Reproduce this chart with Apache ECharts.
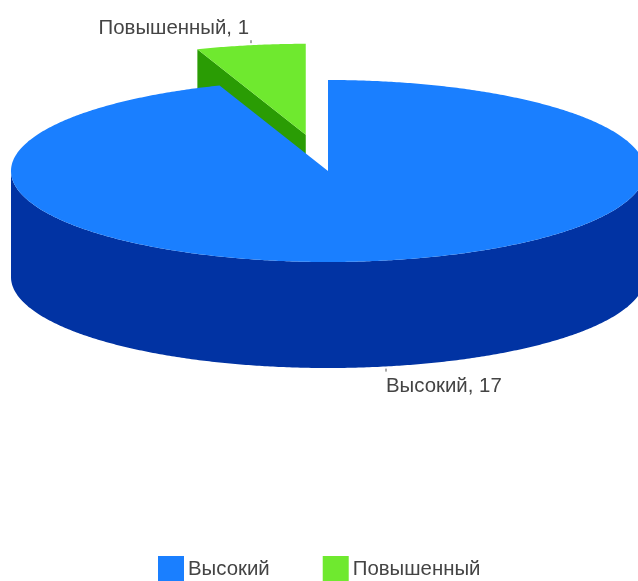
<!DOCTYPE html>
<html><head><meta charset="utf-8">
<style>html,body{margin:0;padding:0;background:#fff}#c{width:638px;height:581px}</style>
<script src="https://cdn.jsdelivr.net/npm/echarts@6/dist/echarts.min.js"></script>
</head><body><div id="c"></div>
<script>
var categories = ['Высокий', 'Повышенный'];
var values = [17, 1];
var topColors = ['#1a7fff', '#6fe92f'];
var sideColors = ['#0133a3', '#2a9c04'];
var explode = [0, 128];
var drawOrder = [1, 0];

var CX = 328, CY = 171, RX = 317, RY = 91, DEPTH = 106;
var total = values.reduce(function (a, b) { return a + b; }, 0);

function startAngle(i) {
  var s = 0;
  for (var k = 0; k < i; k++) s += values[k];
  return s / total * 360;
}
function pt(deg, ox, oy, dz) {
  var r = deg * Math.PI / 180;
  return [CX + ox + RX * Math.sin(r), CY + oy - RY * Math.cos(r) + (dz || 0)];
}
function arc(a, b, ox, oy, dz) {
  var out = [], n = Math.max(2, Math.ceil(Math.abs(b - a) * 2));
  for (var j = 0; j <= n; j++) out.push(pt(a + (b - a) * j / n, ox, oy, dz));
  return out;
}
function renderSlice(i) {
  return function (params, api) {
    var v = api.value(0);
    var a0 = startAngle(i), a1 = a0 + v / total * 360, mid = (a0 + a1) / 2;
    var mr = mid * Math.PI / 180;
    var ox = explode[i] * Math.sin(mr);
    var oy = -explode[i] * Math.cos(mr) * RY / RX;
    var c = [CX + ox, CY + oy];
    var kids = [];
    var side = { fill: sideColors[i] };
    if (a1 > 270 && a1 <= 360) {
      var p = pt(a0, ox, oy);
      kids.push({ type: 'polygon', shape: { points: [c, p, [p[0], p[1] + DEPTH], [c[0], c[1] + DEPTH]] }, style: side });
    }
    var w0 = Math.max(a0, 90), w1 = Math.min(a1, 270);
    if (w1 > w0) {
      kids.push({ type: 'polygon', shape: { points: arc(w0, w1, ox, oy, 0).concat(arc(w1, w0, ox, oy, DEPTH)) }, style: side });
    }
    kids.push({ type: 'polygon', shape: { points: [c].concat(arc(a0, a1, ox, oy, 0)) }, style: { fill: topColors[i] } });
    var below = Math.cos(mr) < 0;
    var e = pt(mid, ox, oy, below ? DEPTH : 0);
    var x0 = Math.round(e[0]) + (below ? 3 : 0);
    var y0 = below ? e[1] + 2 : e[1] - 5;
    kids.push({ type: 'line', shape: { x1: x0, y1: y0, x2: x0, y2: y0 + 3 }, style: { stroke: '#555', lineWidth: 1 } });
    kids.push({
      type: 'text',
      style: {
        text: categories[i] + ', ' + v,
        x: below ? x0 : x0 - 2,
        y: below ? y0 + 18 : y0 - 12,
        align: below ? 'left' : 'right',
        verticalAlign: 'middle',
        fill: '#444',
        font: '20.4px "Liberation Sans", Arial, sans-serif'
      }
    });
    return { type: 'group', children: kids };
  };
}

var chart = echarts.init(document.getElementById('c'), null, { renderer: 'canvas' });
chart.setOption({
  animation: false,
  backgroundColor: '#fff',
  legend: {
    data: categories,
    left: 153,
    top: 551,
    orient: 'horizontal',
    icon: 'rect',
    itemWidth: 26,
    itemHeight: 26,
    itemGap: 53,
    textStyle: { color: '#444', fontSize: 20.4, fontFamily: '"Liberation Sans", Arial, sans-serif', padding: [0, 0, 0, -1] }
  },
  series: drawOrder.map(function (i) {
    return {
      type: 'custom',
      name: categories[i],
      coordinateSystem: 'none',
      itemStyle: { color: topColors[i] },
      renderItem: renderSlice(i),
      data: [[values[i]]]
    };
  })
});
</script></body></html>
